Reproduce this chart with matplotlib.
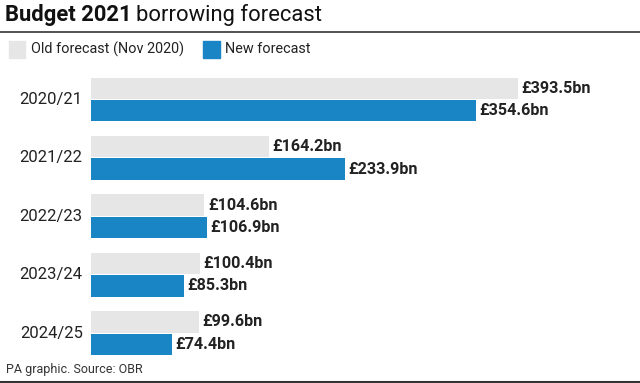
import matplotlib
matplotlib.use("Agg")
import matplotlib.pyplot as plt
from matplotlib.patches import Rectangle
from matplotlib.lines import Line2D

categories = ["2020/21", "2021/22", "2022/23", "2023/24", "2024/25"]
old_forecast = [393.5, 164.2, 104.6, 100.4, 99.6]
new_forecast = [354.6, 233.9, 106.9, 85.3, 74.4]
old_labels = ["£393.5bn", "£164.2bn", "£104.6bn", "£100.4bn", "£99.6bn"]
new_labels = ["£354.6bn", "£233.9bn", "£106.9bn", "£85.3bn", "£74.4bn"]

GREY = "#e6e6e6"
BLUE = "#1a85c5"
FONT = "Roboto"
plt.rcParams["font.family"] = [FONT, "DejaVu Sans"]

W, H = 640, 383
fig = plt.figure(figsize=(W / 100, H / 100), dpi=100)

def fx(px):
    return px / W

def fy(py):
    return 1 - py / H

# axes: pixel x 91..640, y 70..360
ax = fig.add_axes([fx(91), fy(360), fx(640 - 91), (360 - 70) / H])
ax.set_xlim(0, (640 - 91) / 1.085)
spacing = 58.4
ax.set_ylim((360 - 99.5) / spacing, -(99.5 - 70) / spacing)
ax.axis("off")

bh = 21.5 / spacing
off = 11.2 / spacing
for i, cat in enumerate(categories):
    ax.barh(i - off, old_forecast[i], height=bh, color=GREY)
    ax.barh(i + off, new_forecast[i], height=bh, color=BLUE)
    ax.annotate(old_labels[i], (old_forecast[i], i - off), xytext=(2.5, 0),
                textcoords="offset points", va="center", ha="left",
                fontsize=11.6, fontweight="bold", color="#222222")
    ax.annotate(new_labels[i], (new_forecast[i], i + off), xytext=(2.5, 0),
                textcoords="offset points", va="center", ha="left",
                fontsize=11.6, fontweight="bold", color="#222222")
    ax.annotate(cat, (0, i), xytext=(-6, 0), textcoords="offset points",
                va="center", ha="right", fontsize=12, color="#222222")

# title
t1 = fig.text(fx(5), fy(15), "Budget 2021", fontsize=15.8, fontweight="bold",
              va="center", ha="left", color="#111111")
fig.canvas.draw()
bb = t1.get_window_extent()
fig.text(bb.x1 / W + fx(4), fy(15), "borrowing forecast", fontsize=15.8,
         va="center", ha="left", color="#111111")

fig.add_artist(Line2D([0, 1], [fy(31.5), fy(31.5)], color="#333333", lw=1.2,
                      transform=fig.transFigure))

# legend
fig.add_artist(Rectangle((fx(9), fy(58)), fx(16), (58 - 41) / H, color=GREY,
                         transform=fig.transFigure))
fig.text(fx(31), fy(49), "Old forecast (Nov 2020)", fontsize=10.4, va="center",
         ha="left", color="#222222")
fig.add_artist(Rectangle((fx(203), fy(58)), fx(17), (58 - 41) / H, color=BLUE,
                         transform=fig.transFigure))
fig.text(fx(225), fy(49), "New forecast", fontsize=10.4, va="center",
         ha="left", color="#222222")

# footer
fig.text(fx(6), fy(370), "PA graphic. Source: OBR", fontsize=9, va="center",
         ha="left", color="#333333")
fig.add_artist(Line2D([0, 1], [fy(381.5), fy(381.5)], color="#333333", lw=1.5,
                      transform=fig.transFigure))

fig.savefig("out.png", dpi=100)
